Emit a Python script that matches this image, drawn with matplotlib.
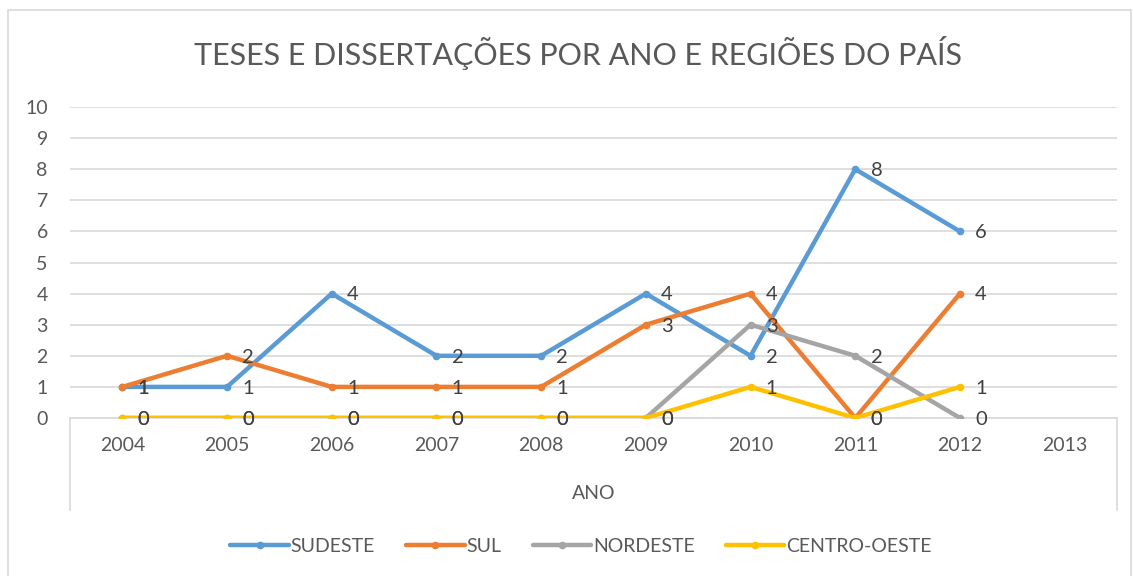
import numpy as np
import matplotlib
matplotlib.use('Agg')
import matplotlib.pyplot as plt
from matplotlib.patches import Rectangle

plt.rcParams['font.family'] = ['Lato', 'DejaVu Sans']

# dados
anos = ['2004', '2005', '2006', '2007', '2008', '2009', '2010', '2011', '2012', '2013']
sudeste = [1, 1, 4, 2, 2, 4, 2, 8, 6, np.nan]
sul = [1, 2, 1, 1, 1, 3, 4, 0, 4, np.nan]
nordeste = [0, 0, 0, 0, 0, 0, 3, 2, 0, np.nan]
centro_oeste = [0, 0, 0, 0, 0, 0, 1, 0, 1, np.nan]

series = [
    ('SUDESTE', sudeste, '#5B9BD5'),
    ('SUL', sul, '#ED7D31'),
    ('NORDESTE', nordeste, '#A5A5A5'),
    ('CENTRO-OESTE', centro_oeste, '#FFC000'),
]

W, H = 1133, 576
fig = plt.figure(figsize=(W / 100, H / 100), dpi=100)

# moldura do gráfico
fig.patches.append(Rectangle((8 / W, -0.05), (1131 - 8) / W, 1.05 - 10 / H,
                             transform=fig.transFigure, fill=False,
                             edgecolor='#D9D9D9', linewidth=1.2))

ax = fig.add_axes([70 / W, 1 - 418 / H, (1117 - 70) / W, (418 - 107) / H])

x = np.arange(len(anos))
for nome, vals, cor in series:
    ax.plot(x, vals, color=cor, linewidth=3.2, marker='o', markersize=4.5,
            label=nome, solid_capstyle='round', zorder=3)

# rótulos de dados
for nome, vals, cor in series:
    for xi, v in zip(x, vals):
        if np.isnan(v):
            continue
        ax.annotate(f'{int(v)}', (xi, v), xytext=(11, -1), textcoords='offset points',
                    ha='left', va='center', fontsize=14.5, color='#404040', zorder=5)

ax.set_xlim(-0.5, len(anos) - 0.5)
ax.set_ylim(0, 10)
ax.set_yticks(range(0, 11))
ax.set_xticks(x)
ax.set_xticklabels(anos)
ax.grid(axis='y', color='#D9D9D9', linewidth=1.2, zorder=0)
ax.set_axisbelow(True)
for s in ['top', 'right', 'left']:
    ax.spines[s].set_visible(False)
ax.spines['bottom'].set_color('#D9D9D9')
ax.spines['bottom'].set_linewidth(1.2)
ax.tick_params(axis='both', length=0, labelsize=14, colors='#595959')
ax.tick_params(axis='x', pad=14)
ax.tick_params(axis='y', pad=16)

# linhas verticais nas extremidades do eixo de categorias
ext = (510 - 418) / (418 - 107)
for xe in (0, 1):
    ax.plot([xe, xe], [0, -ext], transform=ax.transAxes, color='#D9D9D9',
            linewidth=1.2, clip_on=False)

ax.set_xlabel('ANO', fontsize=14, color='#595959', labelpad=22)

fig.text(578 / W, 1 - 53 / H, 'TESES E DISSERTAÇÕES POR ANO E REGIÕES DO PAÍS',
         ha='center', va='center', fontsize=22, color='#595959')

leg = fig.legend(loc='center', bbox_to_anchor=(581 / W, 1 - 546 / H), ncol=4,
                 frameon=False, fontsize=14, handlelength=3.0, columnspacing=1.6,
                 handletextpad=0.1)
for t in leg.get_texts():
    t.set_color('#595959')

fig.savefig('out.png', dpi=100)
